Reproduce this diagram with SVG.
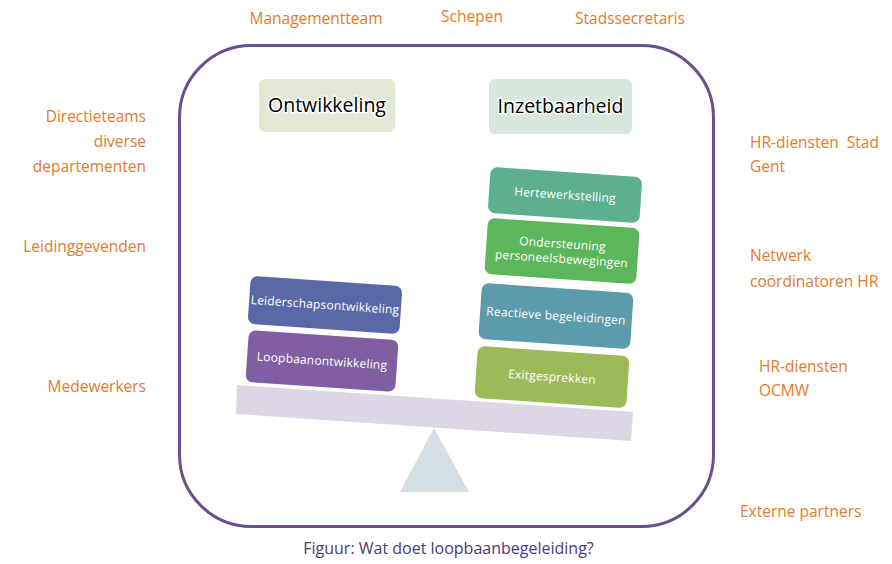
<svg xmlns="http://www.w3.org/2000/svg" width="892" height="564" viewBox="0 0 892 564">
<style>
.lbl{font-family:"Open Sans","Liberation Sans",sans-serif;font-size:15.5px;fill:#E17B2E}
.r{text-anchor:end}
.box{font-family:"Open Sans","Liberation Sans",sans-serif;font-size:12px;fill:#ffffff;text-anchor:middle;letter-spacing:0.2px}
.hd{font-family:"Open Sans","Liberation Sans",sans-serif;font-size:19.5px;fill:#000;text-anchor:middle;stroke:#fff;stroke-width:3;paint-order:stroke}
</style>
<rect width="892" height="564" fill="#fff"/>
<g id="frame"><rect x="179.5" y="45.5" width="534" height="481" rx="72" fill="none" stroke="#6A4E90" stroke-width="3"/></g>
<g id="labels">
<text class="lbl" x="316" y="24" text-anchor="middle">Managementteam</text>
<text class="lbl" x="472" y="22" text-anchor="middle">Schepen</text>
<text class="lbl" x="630" y="24" text-anchor="middle">Stadssecretaris</text>
<text class="lbl r" x="146" y="122">Directieteams</text>
<text class="lbl r" x="146" y="147">diverse</text>
<text class="lbl r" x="146" y="172">departementen</text>
<text class="lbl r" x="146" y="252">Leidinggevenden</text>
<text class="lbl r" x="146" y="392">Medewerkers</text>
<text class="lbl" x="750" y="148" style="white-space:pre">HR-diensten  Stad</text>
<text class="lbl" x="750" y="172">Gent</text>
<text class="lbl" x="750" y="261">Netwerk</text>
<text class="lbl" x="750" y="287">coördinatoren HR</text>
<text class="lbl" x="759" y="372">HR-diensten</text>
<text class="lbl" x="759" y="396">OCMW</text>
<text class="lbl" x="740" y="517">Externe partners</text>
<text x="448.5" y="554" text-anchor="middle" font-family="'Open Sans','Liberation Sans',sans-serif" font-size="16" fill="#4B3A78">Figuur: Wat doet loopbaanbegeleiding?</text>
</g>
<g id="ontwikkeling"><rect x="259" y="79" width="136" height="53" rx="6" fill="#E3E8D5"/><text class="hd" x="327" y="112">Ontwikkeling</text></g>
<g id="inzetbaarheid"><rect x="489" y="79" width="143" height="55" rx="6" fill="#D6E7DD"/><text class="hd" x="560.5" y="113">Inzetbaarheid</text></g>
<g id="fulcrum"><polygon points="434,428 400,492 469,492" fill="#D3DDE4"/></g>
<g id="beam"><polygon points="237,385 633,412 631,441 236,414" fill="#DDD7E5"/></g>
<g id="leiderschap" transform="translate(325,305) rotate(3.9)"><rect x="-76" y="-24" width="152" height="48" rx="7" fill="#5B68A7"/><text class="box" x="0" y="4">Leiderschapsontwikkeling</text></g>
<g id="loopbaan" transform="translate(322,361) rotate(3.9)"><rect x="-75" y="-26" width="150" height="52" rx="7" fill="#7F5FA1"/><text class="box" x="0" y="4">Loopbaanontwikkeling</text></g>
<g id="hertewerkstelling" transform="translate(565,195) rotate(3.9)"><rect x="-76" y="-23" width="152" height="46" rx="7" fill="#5CB08F"/><text class="box" x="0" y="4">Hertewerkstelling</text></g>
<g id="ondersteuning" transform="translate(562,251) rotate(3.9)"><rect x="-76" y="-28" width="152" height="56" rx="7" fill="#5DB55C"/><text class="box" x="0" y="-3">Ondersteuning</text><text class="box" x="0" y="12">personeelsbewegingen</text></g>
<g id="reactieve" transform="translate(556,316) rotate(3.9)"><rect x="-76" y="-28" width="152" height="56" rx="7" fill="#5B9BAB"/><text class="box" x="0" y="4">Reactieve begeleidingen</text></g>
<g id="exit" transform="translate(552,377) rotate(3.9)"><rect x="-76" y="-26" width="152" height="52" rx="7" fill="#9BBB5A"/><text class="box" x="0" y="4">Exitgesprekken</text></g>
</svg>
